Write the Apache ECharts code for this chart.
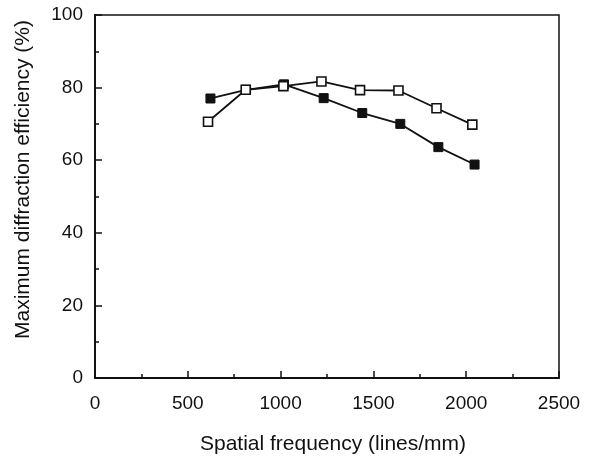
<!DOCTYPE html>
<html>
<head>
<meta charset="utf-8">
<script src="https://cdn.jsdelivr.net/npm/echarts@6/dist/echarts.min.js"></script>
<style>
html,body{margin:0;padding:0;background:#fff;}
#chart{width:593px;height:460px;}
</style>
</head>
<body>
<div id="chart"></div>
<script>
// Open squares series
var xOpen = [609, 812, 1015, 1220, 1428, 1635, 1840, 2033];
var yOpen = [70.6, 79.4, 80.4, 81.7, 79.3, 79.2, 74.3, 69.8];
// Filled squares series
var xFilled = [622, 814, 1018, 1232, 1440, 1645, 1850, 2045];
var yFilled = [77.0, 79.4, 80.9, 77.1, 73.0, 70.0, 63.6, 58.8];

var xAxisName = 'Spatial frequency (lines/mm)';
var yAxisName = 'Maximum diffraction efficiency (%)';

function pairs(xs, ys) {
  return xs.map(function (x, i) { return [x, ys[i]]; });
}

var font = '"Liberation Sans", Arial, Helvetica, sans-serif';
var chart = echarts.init(document.getElementById('chart'), null, {renderer: 'canvas'});
chart.setOption({
  animation: false,
  backgroundColor: '#fff',
  grid: {left: 95, right: 34, top: 15, bottom: 81, show: true, borderColor: '#111', borderWidth: 1.5, backgroundColor: 'transparent'},
  xAxis: {
    type: 'value', min: 0, max: 2500, interval: 500,
    name: xAxisName, nameLocation: 'middle', nameGap: 56,
    nameTextStyle: {fontFamily: font, fontSize: 21, color: '#111', padding: [0, 0, 0, 12]},
    axisLine: {show: true, lineStyle: {color: '#111', width: 2}},
    axisTick: {show: true, inside: true, length: 7, lineStyle: {color: '#111', width: 1.5}},
    minorTick: {show: true, splitNumber: 2, length: 4, lineStyle: {color: '#111', width: 1.5}},
    axisLabel: {fontFamily: font, fontSize: 19, color: '#111', margin: 16,
      formatter: function (v) { return String(v); }},
    splitLine: {show: false}
  },
  yAxis: {
    type: 'value', min: 0, max: 100, interval: 20,
    name: yAxisName, nameLocation: 'middle', nameGap: 61,
    nameTextStyle: {fontFamily: font, fontSize: 21, color: '#111', padding: [0, 0, 0, 34]},
    axisLine: {show: true, lineStyle: {color: '#111', width: 2}},
    axisTick: {show: true, inside: true, length: 7, lineStyle: {color: '#111', width: 1.5}},
    minorTick: {show: true, splitNumber: 2, length: 4, lineStyle: {color: '#111', width: 1.5}},
    axisLabel: {fontFamily: font, fontSize: 19, color: '#111', margin: 12},
    splitLine: {show: false}
  },
  series: [
    {
      type: 'line', data: pairs(xFilled, yFilled), symbol: 'rect', symbolSize: 9,
      lineStyle: {color: '#111', width: 1.8},
      itemStyle: {color: '#111', borderColor: '#111', borderWidth: 1}, z: 2
    },
    {
      type: 'line', data: pairs(xOpen, yOpen), symbol: 'rect', symbolSize: 9,
      lineStyle: {color: '#111', width: 1.8},
      itemStyle: {color: '#fff', borderColor: '#111', borderWidth: 1.6}, z: 3
    }
  ]
});
</script>
</body>
</html>
